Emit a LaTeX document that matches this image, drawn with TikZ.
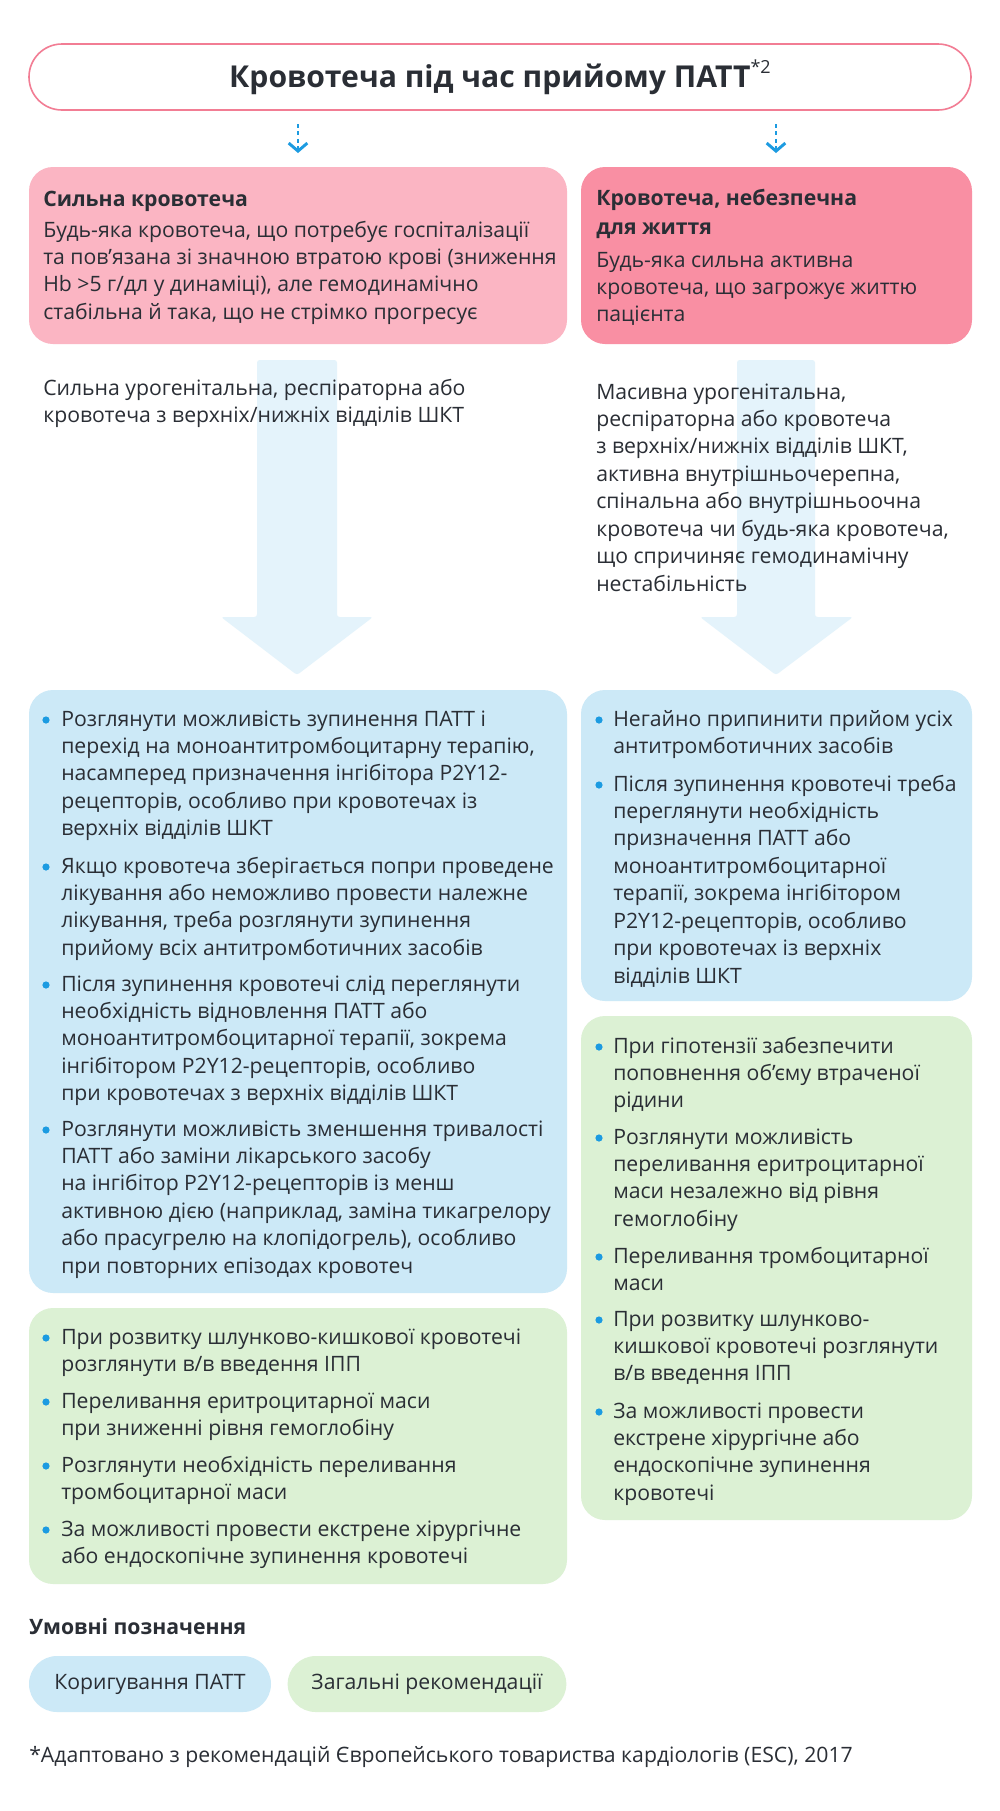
\documentclass[tikz,border=0pt]{standalone}
\usepackage{fontspec}
\setmainfont{Open Sans}
\usepackage{tikz}
\usetikzlibrary{positioning,arrows.meta,calc}
\definecolor{bldink}{HTML}{2A2E35}
\definecolor{bldpink}{HTML}{F27D94}
\definecolor{bldrose}{HTML}{FBB5C3}
\definecolor{bldred}{HTML}{F98FA3}
\definecolor{bldblue}{HTML}{CCE9F7}
\definecolor{bldgreen}{HTML}{DCF1D4}
\definecolor{bldsky}{HTML}{E4F3FB}
\definecolor{blddot}{HTML}{1C9BE1}
\newcommand{\txtrows}[1]{\begin{tabular}[t]{@{}l@{}}#1\end{tabular}}

\begin{document}
\begin{tikzpicture}[x=0.75pt,y=-0.75pt,
  ttlbox/.style={draw=bldpink,line width=1.2pt,fill=white,rounded corners=24.7pt,minimum width=706.5pt,minimum height=49.5pt,font=\bfseries\fontsize{22.6}{26}\selectfont,text=bldink},
  hdtxt/.style={font=\bfseries\fontsize{15.9}{22.4}\selectfont,text=bldink,anchor=base west,inner sep=0pt},
  bdtxt/.style={font=\fontsize{15.9}{20.6}\selectfont,text=bldink,anchor=base west,inner sep=0pt},
  card/.style={rounded corners=18pt},
  pill/.style={rounded corners=21pt,minimum height=42pt,font=\fontsize{15.9}{20.6}\selectfont,text=bldink,inner sep=0pt},
  dasharr/.style={blddot,line width=2.2pt,dash pattern=on 3pt off 2.6pt,-{Straight Barb[length=6pt,width=14pt,line width=2.2pt]}},
  bigarr/.style={fill=bldsky,rounded corners=2pt}]
\useasboundingbox (0,0) rectangle (1000,1811);
\fill[white] (0,0) rectangle (1000,1811);
\node[ttlbox] (title) at (500,77) {Кровотеча під час прийому ПАТТ\raisebox{0.45em}{\mdseries\fontsize{13.5}{13.5}\selectfont *2}};
\coordinate (dla) at (298,124); \coordinate (dlb) at (298,153);
\coordinate (dra) at (776,124); \coordinate (drb) at (776,153);
\draw[dasharr] (dla) -- (dlb);
\draw[dasharr] (dra) -- (drb);
\fill[bldrose,card] (29,167) rectangle (567,344);
\fill[bldred,card] (581,167) rectangle (972,344);
\node[hdtxt] (sevhd) at (43,206) {Сильна кровотеча};
\node[bdtxt] (sevtx) at (43,237) {\txtrows{Будь-яка кровотеча, що потребує госпіталізації\\та пов’язана зі значною втратою крові (зниження\\Hb >5 г/дл у динаміці), але гемодинамічно\\стабільна й така, що не стрімко прогресує}};
\node[hdtxt] (lifehd) at (596,205) {\txtrows{Кровотеча, небезпечна\\для життя}};
\node[bdtxt] (lifetx) at (596,267) {\txtrows{Будь-яка сильна активна\\кровотеча, що загрожує життю\\пацієнта}};
\path[bigarr] (257,360) -- (337,360) -- (337,617) -- (373,617) -- (297,675) -- (221,617) -- (257,617) -- cycle;
\path[bigarr] (737,360) -- (815,360) -- (815,617) -- (853,617) -- (776,675) -- (700,617) -- (737,617) -- cycle;
\node[bdtxt] (sevex) at (43,395) {\txtrows{Сильна урогенітальна, респіраторна або\\кровотеча з верхніх/нижніх відділів ШКТ}};
\node[bdtxt] (lifeex) at (596,399) {\txtrows{Масивна урогенітальна,\\респіраторна або кровотеча\\з верхніх/нижніх відділів ШКТ,\\активна внутрішньочерепна,\\спінальна або внутрішньоочна\\кровотеча чи будь-яка кровотеча,\\що спричиняє гемодинамічну\\нестабільність}};
\fill[bldblue,card] (29,690) rectangle (567,1293);
\fill[bldblue,card] (581,690) rectangle (972,1001);
\fill[bldgreen,card] (29,1308) rectangle (567,1584);
\fill[bldgreen,card] (581,1016) rectangle (972,1520);
\node[bdtxt] (sevb1) at (61,726) {\txtrows{Розглянути можливість зупинення ПАТТ і\\перехід на моноантитромбоцитарну терапію,\\насамперед призначення інгібітора P2Y12-\\рецепторів, особливо при кровотечах із\\верхніх відділів ШКТ}};
\node[bdtxt] (sevb2) at (61,873) {\txtrows{Якщо кровотеча зберігається попри проведене\\лікування або неможливо провести належне\\лікування, треба розглянути зупинення\\прийому всіх антитромботичних засобів}};
\node[bdtxt] (sevb3) at (61,991) {\txtrows{Після зупинення кровотечі слід переглянути\\необхідність відновлення ПАТТ або\\моноантитромбоцитарної терапії, зокрема\\інгібітором P2Y12-рецепторів, особливо\\при кровотечах з верхніх відділів ШКТ}};
\node[bdtxt] (sevb4) at (61,1136) {\txtrows{Розглянути можливість зменшення тривалості\\ПАТТ або заміни лікарського засобу\\на інгібітор P2Y12-рецепторів із менш\\активною дією (наприклад, заміна тикагрелору\\або прасугрелю на клопідогрель), особливо\\при повторних епізодах кровотеч}};
\node[bdtxt] (lifeb1) at (613,726) {\txtrows{Негайно припинити прийом усіх\\антитромботичних засобів}};
\node[bdtxt] (lifeb2) at (613,791) {\txtrows{Після зупинення кровотечі треба\\переглянути необхідність\\призначення ПАТТ або\\моноантитромбоцитарної\\терапії, зокрема інгібітором\\P2Y12-рецепторів, особливо\\при кровотечах із верхніх\\відділів ШКТ}};
\node[bdtxt] (sevg1) at (61,1344) {\txtrows{При розвитку шлунково-кишкової кровотечі\\розглянути в/в введення ІПП}};
\node[bdtxt] (sevg2) at (61,1408) {\txtrows{Переливання еритроцитарної маси\\при зниженні рівня гемоглобіну}};
\node[bdtxt] (sevg3) at (61,1472) {\txtrows{Розглянути необхідність переливання\\тромбоцитарної маси}};
\node[bdtxt] (sevg4) at (61,1536) {\txtrows{За можливості провести екстрене хірургічне\\або ендоскопічне зупинення кровотечі}};
\node[bdtxt] (lifeg1) at (613,1053) {\txtrows{При гіпотензії забезпечити\\поповнення об’єму втраченої\\рідини}};
\node[bdtxt] (lifeg2) at (613,1144) {\txtrows{Розглянути можливість\\переливання еритроцитарної\\маси незалежно від рівня\\гемоглобіну}};
\node[bdtxt] (lifeg3) at (613,1263) {\txtrows{Переливання тромбоцитарної\\маси}};
\node[bdtxt] (lifeg4) at (613,1326) {\txtrows{При розвитку шлунково-\\кишкової кровотечі розглянути\\в/в введення ІПП}};
\node[bdtxt] (lifeg5) at (613,1418) {\txtrows{За можливості провести\\екстрене хірургічне або\\ендоскопічне зупинення\\кровотечі}};
\foreach \y in {720,867,985,1130,1338,1402,1466,1530} \fill[blddot] (46,\y) circle (3.6);
\foreach \y in {720,785,1047,1138,1257,1320,1412} \fill[blddot] (599,\y) circle (3.6);
\node[hdtxt] (leghd) at (29,1634) {Умовні позначення};
\node[pill,fill=bldblue,minimum width=181.5pt] (legadj) at (150,1684) {Коригування ПАТТ};
\node[pill,fill=bldgreen,minimum width=209pt] (leggen) at (427,1684) {Загальні рекомендації};
\node[bdtxt] (foot) at (29,1762) {*Адаптовано з рекомендацій Європейського товариства кардіологів (ESC), 2017};
\end{tikzpicture}
\end{document}
